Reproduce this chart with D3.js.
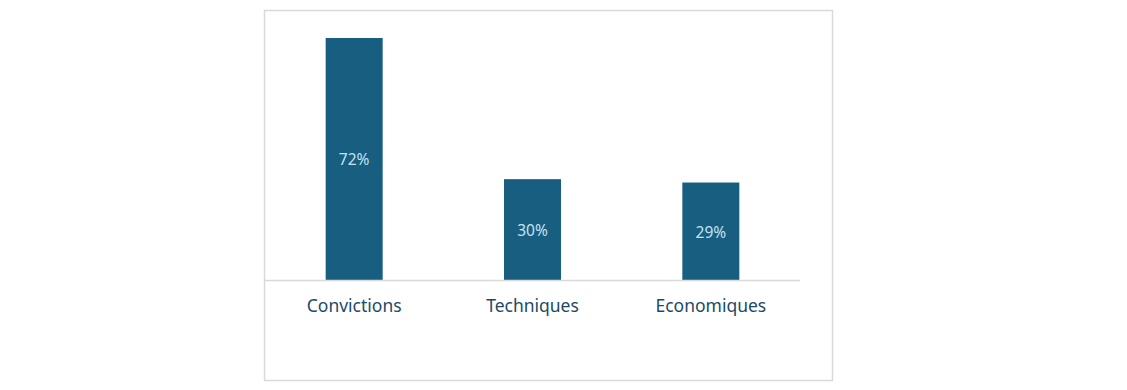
<!DOCTYPE html>
<html>
<head>
<meta charset="utf-8">
<script src="https://cdn.jsdelivr.net/npm/d3@7"></script>
<style>
  body { margin: 0; background: #fff; }
  svg { display: block; }
</style>
</head>
<body>
<div id="chart"></div>
<script>
// data
var categories = ["Convictions", "Techniques", "Economiques"];
var values = [72, 30, 29];
var valueLabels = ["72%", "30%", "29%"];

var svg = d3.select("#chart").append("svg")
    .attr("width", 1127)
    .attr("height", 390);

// outer frame
svg.append("rect")
    .attr("x", 264.5).attr("y", 10.5)
    .attr("width", 568).attr("height", 370)
    .attr("fill", "#fff")
    .attr("stroke", "#d9d9d9")
    .attr("stroke-width", 1.5);

var baseline = 280;
var x = d3.scaleBand().domain(categories).range([265, 800]);
var y = d3.scaleLinear().domain([0, 72]).range([baseline, 38]);
var barW = 57;

var g = svg.append("g");

g.selectAll(".bar")
    .data(values)
    .enter()
    .append("rect")
    .attr("class", "bar")
    .attr("x", function(d, i) { return x(categories[i]) + x.bandwidth() / 2 - barW / 2; })
    .attr("y", function(d) { return y(d); })
    .attr("width", barW)
    .attr("height", function(d) { return baseline - y(d); })
    .attr("fill", "#175e80");

g.selectAll(".val")
    .data(values)
    .enter()
    .append("text")
    .attr("class", "val")
    .attr("x", function(d, i) { return x(categories[i]) + x.bandwidth() / 2; })
    .attr("y", function(d) { return (y(d) + baseline) / 2 + 1; })
    .attr("dy", "0.35em")
    .attr("text-anchor", "middle")
    .attr("font-family", "Noto Sans, sans-serif")
    .attr("font-size", "15.5px")
    .attr("fill", "#c4e3f2")
    .text(function(d, i) { return valueLabels[i]; });

// axis line
svg.append("line")
    .attr("x1", 265).attr("x2", 800)
    .attr("y1", baseline + 0.5).attr("y2", baseline + 0.5)
    .attr("stroke", "#d9d9d9")
    .attr("stroke-width", 1.5);

var xAxis = svg.append("g")
    .attr("transform", "translate(0," + baseline + ")")
    .call(d3.axisBottom(x).tickSize(0).tickPadding(20));
xAxis.select(".domain").remove();
xAxis.selectAll("text")
    .attr("font-family", "Noto Sans, sans-serif")
    .attr("font-size", "17.5px")
    .attr("fill", "#1c4a66");
</script>
</body>
</html>
